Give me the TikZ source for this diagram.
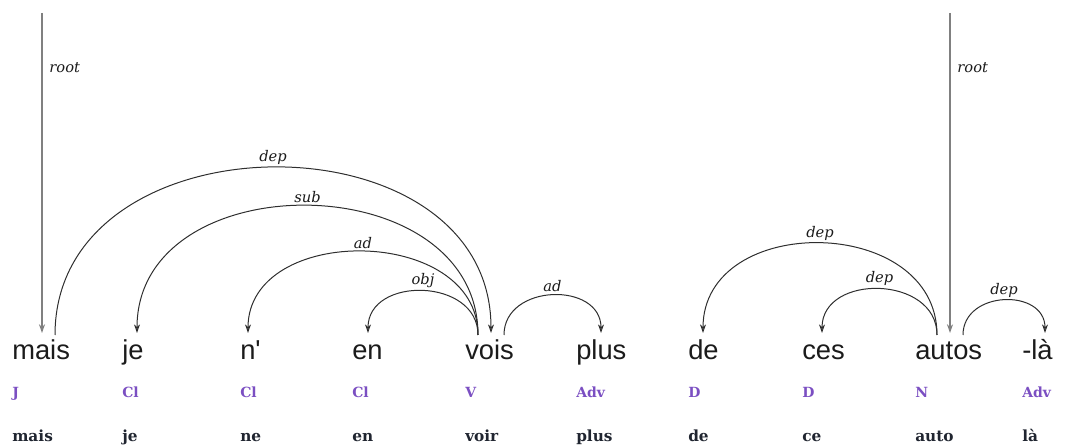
\documentclass[tikz,border=0pt]{standalone}
\usepackage{fontspec}
\usetikzlibrary{arrows.meta,positioning,calc}
\newfontfamily\wordfont{Liberation Sans}
\newfontfamily\tagfont{DejaVu Serif}
\definecolor{ink}{HTML}{1B1B1B}
\definecolor{arcc}{HTML}{2E2E2E}
\definecolor{rootc}{HTML}{808080}
\definecolor{posc}{HTML}{7B4FC2}
\definecolor{lemc}{HTML}{202530}
\tikzset{
  tok/.style={anchor=base west,inner sep=0pt,font=\wordfont\fontsize{20.5}{24}\selectfont,text=ink},
  postag/.style={anchor=base west,inner sep=0pt,font=\tagfont\bfseries\fontsize{10.5}{12}\selectfont,text=posc},
  lem/.style={anchor=base west,inner sep=0pt,font=\tagfont\bfseries\fontsize{11.5}{13}\selectfont,text=lemc},
  lbl/.style={inner sep=2pt,font=\tagfont\itshape\fontsize{11}{12}\selectfont,text=ink},
  arcd/.style={-{Stealth[open,length=6.5pt,width=4.5pt]},draw=arcc,line width=.75pt,out=90,in=90,looseness=1.3},
  rootln/.style={-{Stealth[open,length=6.5pt,width=4.5pt]},draw=rootc,line width=1.2pt},
}
\begin{document}
\begin{tikzpicture}[x=0.75pt,y=0.75pt]
\useasboundingbox (0,0) rectangle (1066,446);
% tokens
\node[tok] (mais) at (12,86) {mais};
\node[tok] (je) at (122,86) {je};
\node[tok] (ne) at (240,86) {n\textquotesingle};
\node[tok] (en) at (352,86) {en};
\node[tok] (vois) at (465,86) {vois};
\node[tok] (plus) at (576,86) {plus};
\node[tok] (de) at (688,86) {de};
\node[tok] (ces) at (802,86) {ces};
\node[tok] (autos) at (915,86) {autos};
\node[tok] (la) at (1022,86) {-là};
% part of speech
\node[postag] (mais-t) at (12,49) {J};
\node[postag] (je-t) at (122,49) {Cl};
\node[postag] (ne-t) at (240,49) {Cl};
\node[postag] (en-t) at (352,49) {Cl};
\node[postag] (vois-t) at (465,49) {V};
\node[postag] (plus-t) at (576,49) {Adv};
\node[postag] (de-t) at (688,49) {D};
\node[postag] (ces-t) at (802,49) {D};
\node[postag] (autos-t) at (915,49) {N};
\node[postag] (la-t) at (1022,49) {Adv};
% lemmas
\node[lem] (mais-l) at (12,5) {mais};
\node[lem] (je-l) at (122,5) {je};
\node[lem] (ne-l) at (240,5) {ne};
\node[lem] (en-l) at (352,5) {en};
\node[lem] (vois-l) at (465,5) {voir};
\node[lem] (plus-l) at (576,5) {plus};
\node[lem] (de-l) at (688,5) {de};
\node[lem] (ces-l) at (802,5) {ce};
\node[lem] (autos-l) at (915,5) {auto};
\node[lem] (la-l) at (1022,5) {là};
% roots
\coordinate (top1) at (42,433);
\coordinate (top2) at (950,433);
\draw[rootln] (top1) -- node[lbl,right,pos=.17,xshift=3pt] {root} ($(mais.base west)+(30,27)$);
\draw[rootln] (top2) -- node[lbl,right,pos=.17,xshift=3pt] {root} ($(autos.base west)+(35,27)$);
% first clause
\draw[arcd] ($(mais.base west)+(43,25)$) to node[lbl,above] {dep} ($(vois.base west)+(26,27)$);
\draw[arcd,looseness=1.28] ($(vois.base west)+(13,25)$) to node[lbl,above] {sub} ($(je.base west)+(15,27)$);
\draw[arcd,looseness=1.22] ($(vois.base west)+(13,25)$) to node[lbl,above] {ad} ($(ne.base west)+(8,27)$);
\draw[arcd,looseness=1.33] ($(vois.base west)+(13,25)$) to node[lbl,above] {obj} ($(en.base west)+(16,27)$);
\draw[arcd,looseness=1.36] ($(vois.base west)+(39,25)$) to node[lbl,above] {ad} ($(plus.base west)+(25,27)$);
% second clause
\draw[arcd,looseness=1.32] ($(autos.base west)+(22,25)$) to node[lbl,above] {dep} ($(de.base west)+(15,27)$);
\draw[arcd,looseness=1.33] ($(autos.base west)+(22,25)$) to node[lbl,above] {dep} ($(ces.base west)+(20,27)$);
\draw[arcd,looseness=1.4] ($(autos.base west)+(48,25)$) to node[lbl,above] {dep} ($(la.base west)+(23,27)$);
\end{tikzpicture}
\end{document}
